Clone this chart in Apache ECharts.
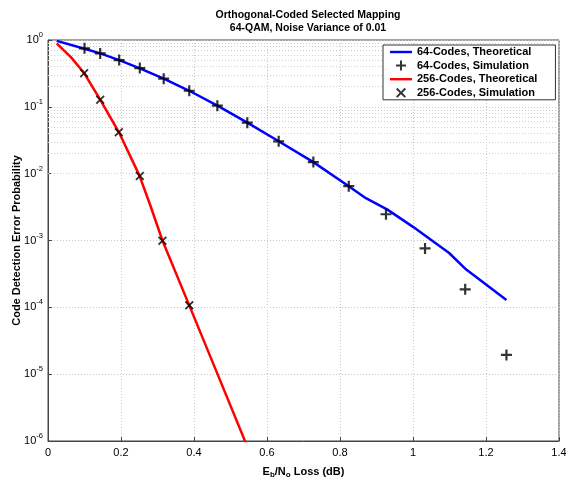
<!DOCTYPE html>
<html>
<head>
<meta charset="utf-8">
<script src="https://cdn.jsdelivr.net/npm/echarts@6/dist/echarts.min.js"></script>
<style>
html, body { margin: 0; padding: 0; background: #fff; }
#main { width: 566px; height: 478px; }
</style>
</head>
<body>
<div id="main"></div>
<script>
// 64 codes, theoretical curve
const blueX = [0.024, 0.1, 0.143, 0.195, 0.25, 0.317, 0.387, 0.464, 0.546, 0.632, 0.727, 0.824, 0.871, 0.93, 1.0, 1.099, 1.145, 1.256]
const blueY = [0.97, 0.74, 0.63, 0.50, 0.38, 0.265, 0.174, 0.104, 0.058, 0.0305, 0.0149, 0.0065, 0.0043, 0.0029, 0.0016, 6.5e-4, 3.7e-4, 1.29e-4]
// 64 codes, simulation
const blueSimX = [0.1, 0.143, 0.195, 0.2515, 0.317, 0.387, 0.464, 0.546, 0.632, 0.727, 0.824, 0.926, 1.033, 1.143, 1.256]
const blueSimY = [0.75, 0.63, 0.50, 0.38, 0.264, 0.174, 0.104, 0.058, 0.0305, 0.0149, 0.0065, 0.00247, 7.6e-4, 1.86e-4, 1.94e-5]
// 256 codes, theoretical curve
const redX = [0.024, 0.042, 0.062, 0.099, 0.143, 0.194, 0.25, 0.28, 0.3135, 0.387, 0.46, 0.545]
const redY = [0.89, 0.71, 0.56, 0.32, 0.128, 0.042, 0.0095, 0.0034, 0.001, 1.07e-4, 1.15e-5, 8.5e-7]
// 256 codes, simulation
const redSimX = [0.099, 0.143, 0.194, 0.2515, 0.3135, 0.387]
const redSimY = [0.318, 0.128, 0.0416, 0.0092, 9.9e-4, 1.07e-4]

const seriesNames = ['64-Codes, Theoretical', '64-Codes, Simulation', '256-Codes, Theoretical', '256-Codes, Simulation']
const titleLines = ['Orthogonal-Coded Selected Mapping', '64-QAM, Noise Variance of 0.01']

const FONT = '"Liberation Sans", Arial, sans-serif'
const PLUS = 'path://M4,0H6V4H10V6H6V10H4V6H0V4H4Z'
const CROSS = 'path://M0,1.4L1.4,0L5,3.6L8.6,0L10,1.4L6.4,5L10,8.6L8.6,10L5,6.4L1.4,10L0,8.6L3.6,5Z'
const LINE_ICON = 'path://M0,0H20V2.2H0Z'

const zip = (xs, ys) => xs.map((x, i) => [x, ys[i]])

// minor log grid lines (2..9 in each decade)
const minorLines = []
for (let e = -6; e < 0; e++) {
    for (let k = 2; k <= 9; k++) {
        minorLines.push({ yAxis: k * Math.pow(10, e) })
    }
}

var myChart = echarts.init(document.getElementById('main'), null, { renderer: 'canvas' })
var option = {
    backgroundColor: '#fff',
    animation: false,
    title: {
        text: titleLines.join('\n'),
        left: 303,
        top: 4,
        textAlign: 'center',
        textStyle: { fontFamily: FONT, fontSize: 10.5, fontWeight: 'bold', color: '#000', lineHeight: 13 }
    },
    grid: {
        left: 48, right: 7, top: 40, bottom: 37,
        containLabel: false,
        outerBoundsMode: 'none',
        show: true, borderColor: '#444', borderWidth: 1, backgroundColor: '#fff'
    },
    legend: {
        orient: 'vertical',
        left: 383,
        top: 45,
        padding: [1, 18, 1, 7],
        backgroundColor: '#fff',
        borderColor: '#333',
        borderWidth: 1,
        itemWidth: 22,
        itemHeight: 10,
        itemGap: 1.6,
        textStyle: { fontFamily: FONT, fontSize: 11, fontWeight: 'bold', color: '#000', lineHeight: 12 },
        data: [
            { name: seriesNames[0], icon: LINE_ICON },
            { name: seriesNames[1], icon: PLUS },
            { name: seriesNames[2], icon: LINE_ICON },
            { name: seriesNames[3], icon: CROSS }
        ]
    },
    xAxis: {
        type: 'value',
        min: 0,
        max: 1.4,
        interval: 0.2,
        name: 'E{sub|b}/N{sub|o} Loss (dB)',
        nameLocation: 'middle',
        nameGap: 24,
        nameTextStyle: {
            fontFamily: FONT, fontSize: 11, fontWeight: 'bold', color: '#000',
            rich: {
                sub: { fontFamily: FONT, fontSize: 8, fontWeight: 'bold', color: '#000', verticalAlign: 'bottom', padding: [6, 0, 0, 0] }
            }
        },
        axisLine: { show: true, lineStyle: { color: '#444' } },
        axisTick: { show: true, inside: true, length: 4, lineStyle: { color: '#444' } },
        axisLabel: { fontFamily: FONT, fontSize: 11, color: '#000', margin: 6 },
        splitLine: { show: true, lineStyle: { color: '#c8c8c8', type: [1, 2], width: 1 } }
    },
    yAxis: {
        type: 'log',
        logBase: 10,
        min: 1e-6,
        max: 1,
        name: 'Code Detection Error Probability',
        nameLocation: 'middle',
        nameGap: 26,
        nameMoveOverlap: false,
        nameTextStyle: { fontFamily: FONT, fontSize: 11, fontWeight: 'bold', color: '#000' },
        axisLine: { show: true, lineStyle: { color: '#444' } },
        axisTick: { show: true, inside: true, length: 4, lineStyle: { color: '#444' } },
        axisLabel: {
            margin: 5,
            formatter: v => '{b|10}{s|' + Math.round(Math.log10(v)) + '}',
            rich: {
                b: { fontFamily: FONT, fontSize: 11, color: '#000', lineHeight: 18, verticalAlign: 'middle' },
                s: { fontFamily: FONT, fontSize: 7.5, color: '#000', lineHeight: 8, verticalAlign: 'top' }
            }
        },
        splitLine: { show: true, lineStyle: { color: '#c8c8c8', type: [1, 2], width: 1 } }
    },
    series: [
        {
            name: seriesNames[0],
            type: 'line',
            showSymbol: false,
            color: '#0000ff',
            lineStyle: { color: '#0000ff', width: 2.5 },
            data: zip(blueX, blueY),
            z: 3,
            markLine: {
                silent: true,
                symbol: 'none',
                label: { show: false },
                lineStyle: { color: '#d0d0d0', type: [1, 2], width: 1 },
                data: minorLines,
                z: 1
            }
        },
        {
            name: seriesNames[1],
            type: 'scatter',
            symbol: PLUS,
            symbolSize: 11,
            itemStyle: { color: '#000' },
            data: zip(blueSimX, blueSimY),
            z: 5
        },
        {
            name: seriesNames[2],
            type: 'line',
            showSymbol: false,
            color: '#ff0000',
            lineStyle: { color: '#ff0000', width: 2.5 },
            data: zip(redX, redY),
            z: 3
        },
        {
            name: seriesNames[3],
            type: 'scatter',
            symbol: CROSS,
            symbolSize: 9,
            itemStyle: { color: '#000' },
            data: zip(redSimX, redSimY),
            z: 5
        }
    ]
}
option && myChart.setOption(option)
</script>
</body>
</html>
